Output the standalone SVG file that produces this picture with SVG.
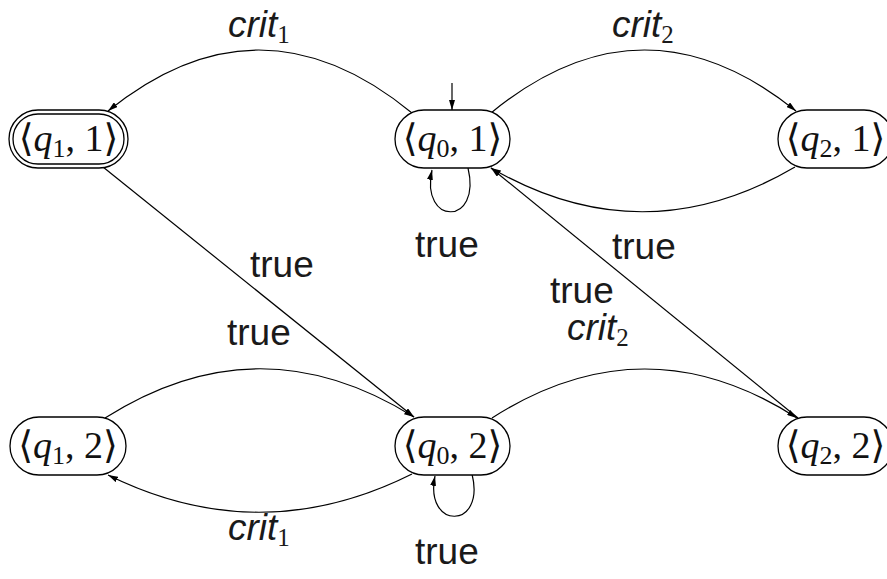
<svg xmlns="http://www.w3.org/2000/svg" width="887" height="579" viewBox="0 0 887 579">
  <style>
    .state { fill: #ffffff; stroke: #000000; stroke-width: 1.3; }
    .name { font-family: "Liberation Serif", "DejaVu Serif", serif; font-size: 38px; fill: #111111; text-anchor: middle; }
    .name .v { font-style: italic; }
    .name .sub { font-size: 26px; }
    .edge { fill: none; stroke: #000000; stroke-width: 1.2; marker-end: url(#head); }
    .lbl { font-family: "Liberation Sans", Arial, sans-serif; font-size: 37px; fill: #1a1a1a; }
    .lbl .it { font-style: italic; }
    .lbl .sub { font-family: "Liberation Serif", "DejaVu Serif", serif; font-size: 25px; }
  </style>
  <defs>
    <marker id="head" viewBox="0 0 10 6" refX="10" refY="3" markerWidth="10" markerHeight="6" markerUnits="userSpaceOnUse" orient="auto">
      <path d="M0,0 L10,3 L0,6 z" fill="#000000"/>
    </marker>
  </defs>

  <!-- transitions -->
  <g id="connectors">
    <!-- start arrow -->
    <path class="edge" d="M452,83 L452,110"/>
    <!-- (q0,1) -> (q1,1) -->
    <path class="edge" d="M412,113 Q260,-12 108,111"/>
    <!-- (q0,1) -> (q2,1) -->
    <path class="edge" d="M491,113 Q643,-12 796,111"/>
    <!-- (q2,1) -> (q0,1) -->
    <path class="edge" d="M795,167 Q643,256 491,168"/>
    <!-- (q0,1) self loop -->
    <path class="edge" d="M468,168 C482,226 420,226 432,170"/>
    <!-- (q2,2) -> (q0,1) -->
    <path class="edge" d="M798,418 L491,168"/>
    <!-- (q1,1) -> (q0,2) -->
    <path class="edge" d="M103,167 L414,417"/>
    <!-- (q1,2) -> (q0,2) -->
    <path class="edge" d="M105,418 Q259,320 414,417"/>
    <!-- (q0,2) -> (q1,2) -->
    <path class="edge" d="M412,474 Q260,550 108,475"/>
    <!-- (q0,2) -> (q2,2) -->
    <path class="edge" d="M492,418 Q645,320 797,418"/>
    <!-- (q0,2) self loop -->
    <path class="edge" d="M472,474 C486,530 424,530 435,476"/>
  </g>

  <!-- states -->
  <g id="q1_1">
    <rect class="state" x="9" y="110" width="119" height="58" rx="29"/>
    <rect class="state" x="13" y="114" width="111" height="50" rx="25"/>
    <text class="name" x="68.5" y="151">⟨<tspan class="v">q</tspan><tspan class="sub" dy="6">1</tspan><tspan dy="-6">, 1⟩</tspan></text>
  </g>
  <g id="q0_1">
    <rect class="state" x="395" y="110" width="115" height="58" rx="29"/>
    <text class="name" x="452.5" y="151">⟨<tspan class="v">q</tspan><tspan class="sub" dy="6">0</tspan><tspan dy="-6">, 1⟩</tspan></text>
  </g>
  <g id="q2_1">
    <rect class="state" x="778" y="110" width="115" height="58" rx="29"/>
    <text class="name" x="835.5" y="151">⟨<tspan class="v">q</tspan><tspan class="sub" dy="6">2</tspan><tspan dy="-6">, 1⟩</tspan></text>
  </g>
  <g id="q1_2">
    <rect class="state" x="10" y="417" width="116" height="58" rx="29"/>
    <text class="name" x="68" y="458">⟨<tspan class="v">q</tspan><tspan class="sub" dy="6">1</tspan><tspan dy="-6">, 2⟩</tspan></text>
  </g>
  <g id="q0_2">
    <rect class="state" x="395" y="417" width="115" height="58" rx="29"/>
    <text class="name" x="452.5" y="458">⟨<tspan class="v">q</tspan><tspan class="sub" dy="6">0</tspan><tspan dy="-6">, 2⟩</tspan></text>
  </g>
  <g id="q2_2">
    <rect class="state" x="778" y="417" width="115" height="58" rx="29"/>
    <text class="name" x="835.5" y="458">⟨<tspan class="v">q</tspan><tspan class="sub" dy="6">2</tspan><tspan dy="-6">, 2⟩</tspan></text>
  </g>

  <!-- transition labels -->
  <g id="labels">
    <text class="lbl" x="228" y="37"><tspan class="it">crit</tspan><tspan class="sub" dy="6">1</tspan></text>
    <text class="lbl" x="612" y="37"><tspan class="it">crit</tspan><tspan class="sub" dy="6">2</tspan></text>
    <text class="lbl" x="415" y="257">true</text>
    <text class="lbl" x="612" y="259">true</text>
    <text class="lbl" x="250" y="277">true</text>
    <text class="lbl" x="550" y="303">true</text>
    <text class="lbl" x="567" y="340"><tspan class="it">crit</tspan><tspan class="sub" dy="6">2</tspan></text>
    <text class="lbl" x="227" y="345">true</text>
    <text class="lbl" x="228" y="540"><tspan class="it">crit</tspan><tspan class="sub" dy="6">1</tspan></text>
    <text class="lbl" x="415" y="564">true</text>
  </g>
</svg>
